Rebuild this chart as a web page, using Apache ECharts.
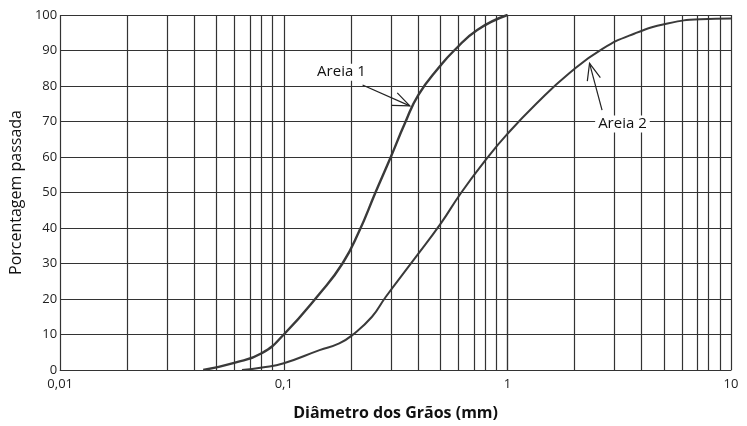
<!DOCTYPE html>
<html>
<head>
<meta charset="utf-8">
<script src="https://cdn.jsdelivr.net/npm/echarts@6/dist/echarts.min.js"></script>
<style>html,body{margin:0;padding:0;background:#fff}#c{width:747px;height:426px}</style>
</head>
<body>
<div id="c"></div>
<script>
// Tick labels (decades 0.01 .. 10)
const xTickLabels = ['0,01', '0,1', '1', '10'];
// Minor vertical grid values (mm)
const minorGridX = [0.02,0.03,0.04,0.05,0.06,0.07,0.08,0.09,
                    0.2,0.3,0.4,0.5,0.6,0.7,0.8,0.9,
                    2,3,4,5,6,7,8,9];
// Areia 1: diameter (mm), % passing
const areia1D = [0.0436,0.06,0.08,0.1,0.1445,0.183,0.217,0.257,0.301,0.348,0.4,0.5,0.578,0.733,1.0];
const areia1P = [0,2,4.8,10,21.5,30,39,50,60,69.5,77.5,85.6,90,95.8,100];
// Areia 2
const areia2D = [0.065,0.08,0.1,0.1445,0.177,0.203,0.248,0.285,0.386,0.504,0.619,0.81,1.0,1.346,1.89,2.65,3.71,5.2,7.3,10];
const areia2P = [0,0.7,1.9,5.6,7.5,9.9,15,20.5,31.5,41.3,49.8,59.6,66.5,75,83.6,90.4,94.8,97.6,98.8,99];
// Annotations (data coordinates): label position, arrow tail, arrow tip
const annLabels = ['Areia 1', 'Areia 2'];
const annText = [[0.181, 83.9], [3.27, 69.3]];
const annTail = [[0.225, 80.3], [2.65, 73.2]];
const annTip  = [[0.366, 74.4], [2.33, 86.4]];

// the x axis is logarithmic: positions are log10(diameter)
const lg = v => Math.log10(v);
const lineColor = '#333';
const chart = echarts.init(document.getElementById('c'));
const zip = (a, b) => a.map((v, i) => [lg(v), b[i]]);

chart.setOption({
  backgroundColor: '#fff',
  animation: false,
  grid: { left: 50, right: 16, top: 15, bottom: 56 },
  xAxis: {
    type: 'value', min: -2, max: 1, interval: 1,
    name: 'Diâmetro dos Grãos (mm)', nameLocation: 'middle', nameGap: 35,
    nameTextStyle: { fontFamily: 'Open Sans', fontSize: 16, fontWeight: 'bold', color: '#111' },
    axisLine: { show: true, lineStyle: { color: lineColor, width: 1.2 } },
    axisTick: { show: false },
    axisLabel: { fontFamily: 'Open Sans', fontSize: 13, color: '#222', margin: 8,
      formatter: (v, i) => xTickLabels[i] },
    splitLine: { show: true, lineStyle: { color: lineColor, width: 1.2 } }
  },
  yAxis: {
    type: 'value', min: 0, max: 100, interval: 10,
    name: 'Porcentagem passada', nameLocation: 'middle', nameGap: 26,
    nameTextStyle: { fontFamily: 'Open Sans', fontSize: 16, color: '#111' },
    axisLine: { show: true, lineStyle: { color: lineColor, width: 1.2 } },
    axisTick: { show: false },
    axisLabel: { fontFamily: 'Open Sans', fontSize: 13, color: '#222', margin: 3 },
    splitLine: { show: true, lineStyle: { color: lineColor, width: 1.2 } }
  },
  series: [
    {
      type: 'line', name: 'grid', data: [], silent: true,
      markLine: {
        silent: true, symbol: 'none', animation: false,
        label: { show: false },
        lineStyle: { color: lineColor, width: 1.2, type: 'solid' },
        emphasis: { disabled: true },
        data: minorGridX.map(v => ({ xAxis: lg(v) }))
      }
    },
    {
      type: 'line', name: 'Areia 1', data: zip(areia1D, areia1P),
      smooth: 0.5, showSymbol: false, silent: true,
      lineStyle: { color: '#3a3a3a', width: 2.4 }
    },
    {
      type: 'line', name: 'Areia 2', data: zip(areia2D, areia2P),
      smooth: 0.5, showSymbol: false, silent: true,
      lineStyle: { color: '#3a3a3a', width: 2 }
    }
  ]
});

function px(p) { return chart.convertToPixel({ gridIndex: 0 }, [lg(p[0]), p[1]]); }
const graphics = [];
annLabels.forEach((t, i) => {
  const tp = px(annText[i]);
  const a = px(annTail[i]);
  const b = px(annTip[i]);
  graphics.push({
    type: 'text', x: tp[0], y: tp[1], z: 100,
    style: { text: t, fontFamily: 'Open Sans', fontSize: 15, fill: '#111',
      align: 'center', verticalAlign: 'middle',
      backgroundColor: '#fff', padding: [1, 3] }
  });
  graphics.push({
    type: 'line', z: 90,
    shape: { x1: a[0], y1: a[1], x2: b[0], y2: b[1] },
    style: { stroke: '#222', lineWidth: 1.2 }
  });
  const ang = Math.atan2(a[1] - b[1], a[0] - b[0]);
  const L = 18, w = 22 * Math.PI / 180;
  graphics.push({
    type: 'polyline', z: 90,
    shape: { points: [
      [b[0] + L * Math.cos(ang - w), b[1] + L * Math.sin(ang - w)],
      [b[0], b[1]],
      [b[0] + L * Math.cos(ang + w), b[1] + L * Math.sin(ang + w)]
    ] },
    style: { stroke: '#222', lineWidth: 1.2, fill: null }
  });
});
chart.setOption({ graphic: graphics });
</script>
</body>
</html>
